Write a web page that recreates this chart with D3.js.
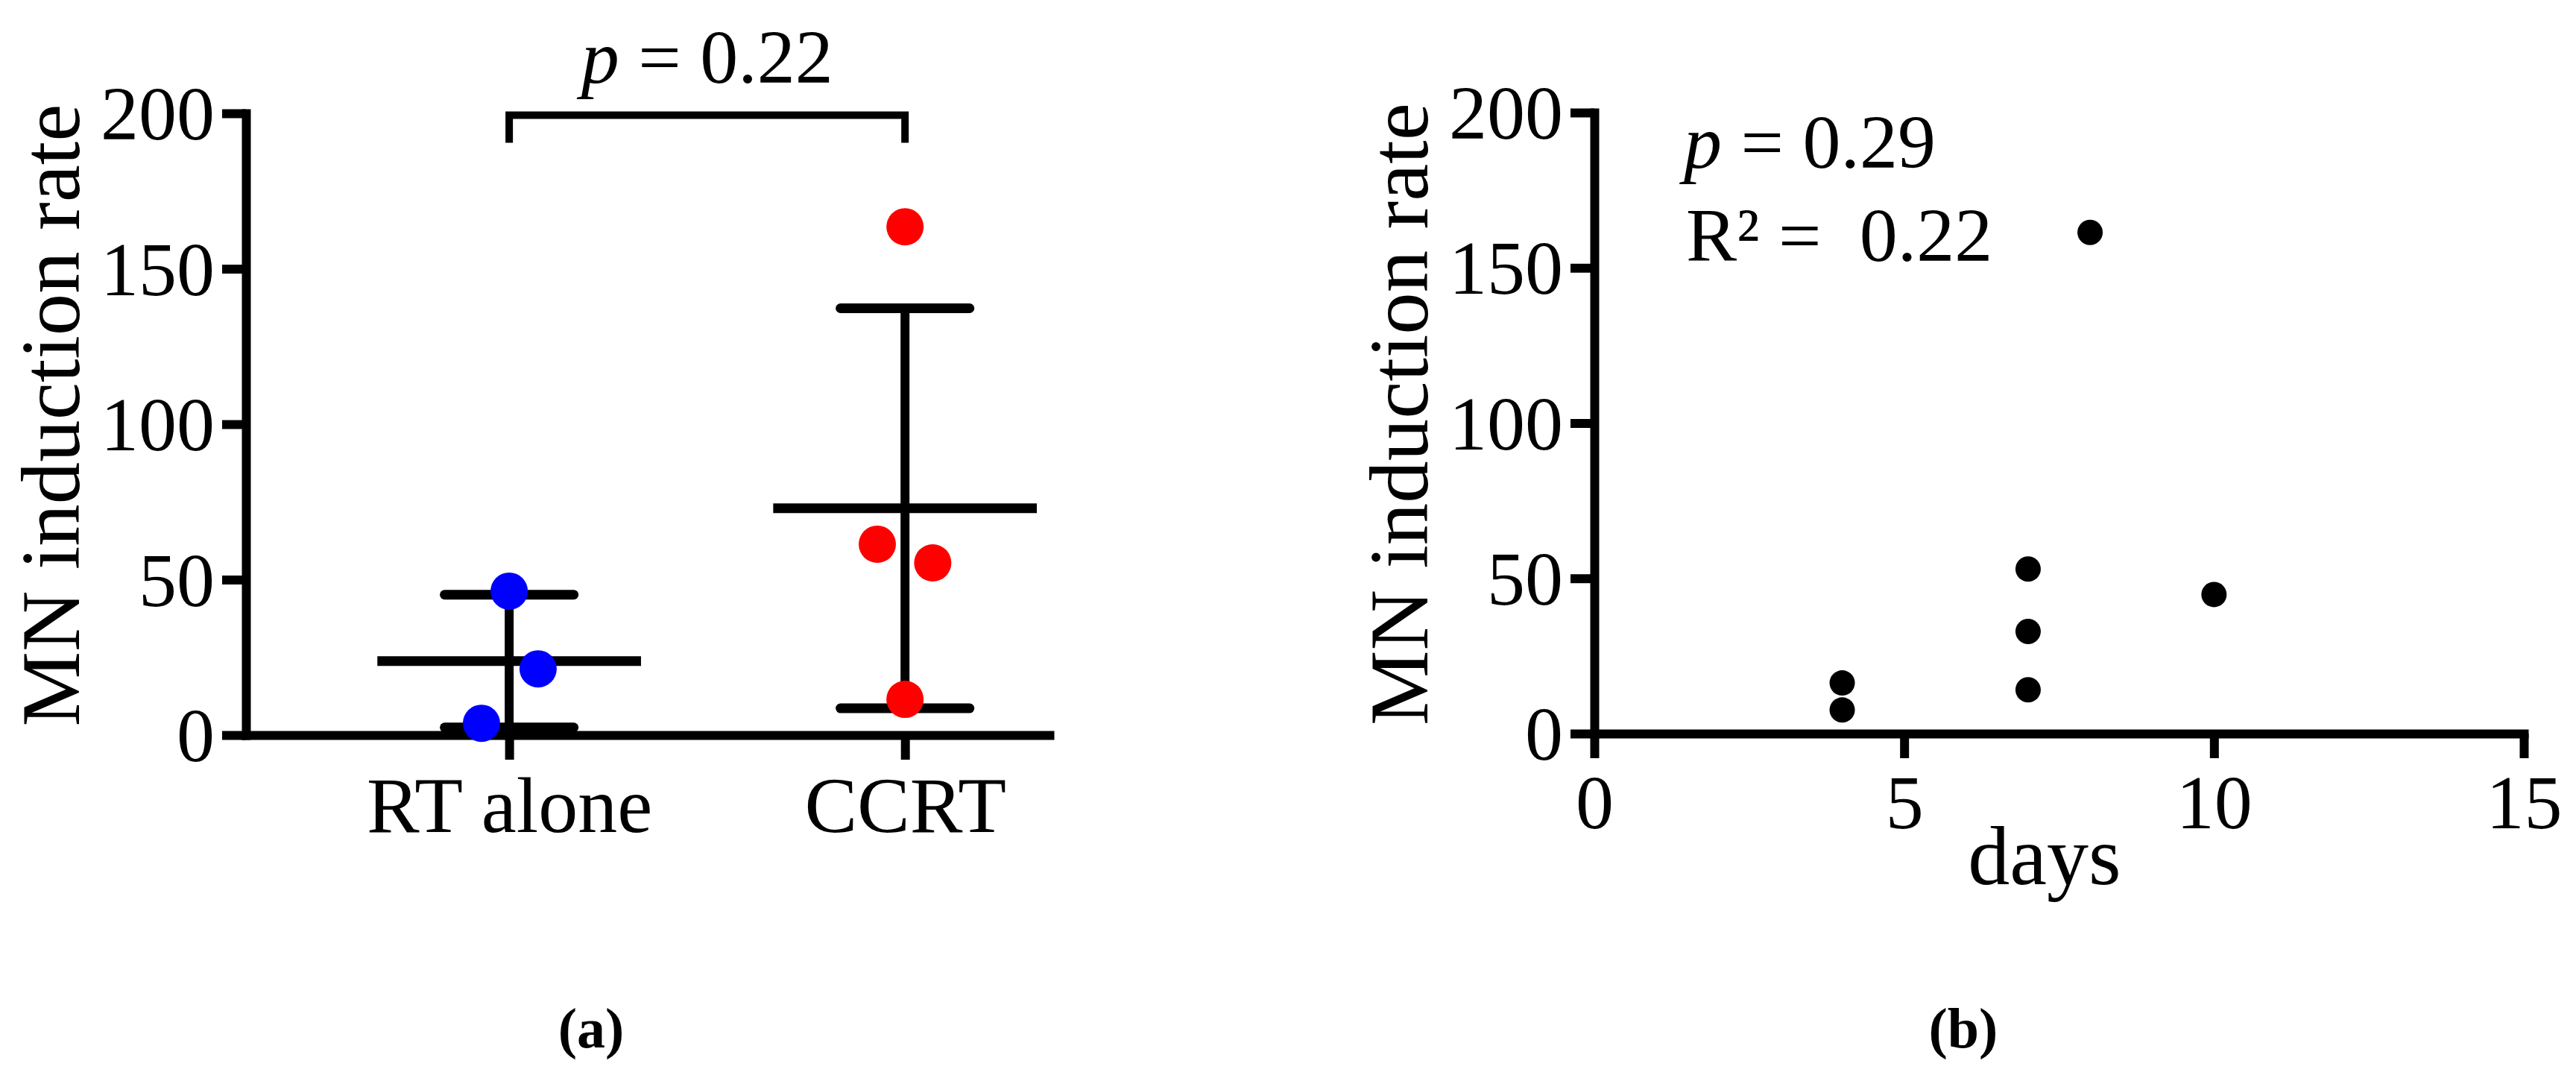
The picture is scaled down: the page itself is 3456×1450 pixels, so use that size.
<!DOCTYPE html>
<html>
<head>
<meta charset="utf-8">
<script src="https://cdn.jsdelivr.net/npm/d3@7"></script>
<style>
  body { margin: 0; background: #fff; }
  svg { display: block; }
</style>
</head>
<body>
<div class="container"></div>
<script>
// panel (a) data
const groups = ["RT alone", "CCRT"];
const rtAlone = [46.3, 21.3, 3.8];
const ccrt = [163.5, 61.4, 55.4, 11.5];
// horizontal scatter of the dots, in category units
const rtJitter = [0, 0.073, -0.07];
const ccrtJitter = [0, -0.07, 0.07, 0];
const pTextA = "0.22";

// panel (b) data
const days = [4, 4, 7, 7, 7, 8, 10];
const mnRate = [16.3, 7.6, 53, 32.9, 14.1, 161.4, 44.8];
const pTextB = "0.29";
const r2Text = "0.22";

const yTicks = [0, 50, 100, 150, 200];
const dayTicks = [0, 5, 10, 15];

const serif = '"Palatino Linotype", "Book Antiqua", Palatino, "Liberation Serif", serif';
const width = 3456;
const height = 1450;
const axisW = 12;

const svg = d3
  .select(".container")
  .append("svg")
  .attr("width", width)
  .attr("height", height)
  .style("font-family", serif);

function styleAxis(g, fontSize) {
  g.attr("font-family", serif).attr("font-size", fontSize);
  g.select(".domain").attr("stroke", "#000").attr("stroke-width", axisW).attr("stroke-linecap", "square");
  g.selectAll(".tick line").attr("stroke", "#000").attr("stroke-width", axisW);
  g.selectAll(".tick text").attr("fill", "#000");
}

function drawYAxis(y, x0, labelX) {
  const g = svg
    .append("g")
    .attr("transform", `translate(${x0},0)`)
    .call(d3.axisLeft(y).tickValues(yTicks).tickSize(32).tickSizeOuter(0).tickPadding(10));
  styleAxis(g, 102);
  g.selectAll(".tick text").attr("dy", "0.34em");

  svg
    .append("text")
    .attr("transform", `translate(${labelX},${(y(0) + y(200)) / 2 - 12}) rotate(-90)`)
    .attr("text-anchor", "middle")
    .attr("font-size", 113)
    .text("MN induction rate");
}

// ---------- panel (a) ----------
const ya = d3.scaleLinear().domain([0, 200]).range([986, 152]);
const xa = d3.scaleLinear().domain([-0.665, 1.365]).range([330, 1408]);

drawYAxis(ya, 330, 106);

const gxa = svg
  .append("g")
  .attr("transform", `translate(0,${ya(0)})`)
  .call(
    d3.axisBottom(xa)
      .tickValues([0, 1])
      .tickFormat((i) => groups[i])
      .tickSize(33)
      .tickSizeOuter(0)
  );
styleAxis(gxa, 106);
gxa.selectAll(".tick text").attr("y", 130).attr("dy", 0);

const sets = [
  { vals: rtAlone, jit: rtJitter, color: "#0000ff" },
  { vals: ccrt, jit: ccrtJitter, color: "#ff0000" },
];

// mean and SD bars
const gErr = svg.append("g").attr("stroke", "#000").attr("fill", "none");
sets.forEach((s, i) => {
  const m = d3.mean(s.vals);
  const sd = d3.deviation(s.vals);
  gErr.append("line")
    .attr("x1", xa(i)).attr("x2", xa(i))
    .attr("y1", ya(m - sd)).attr("y2", ya(m + sd))
    .attr("stroke-width", 12);
  gErr.append("line")
    .attr("x1", xa(i - 0.333)).attr("x2", xa(i + 0.333))
    .attr("y1", ya(m)).attr("y2", ya(m))
    .attr("stroke-width", 13);
  [m - sd, m + sd].forEach((v) => {
    gErr.append("line")
      .attr("x1", xa(i - 0.163)).attr("x2", xa(i + 0.163))
      .attr("y1", ya(v)).attr("y2", ya(v))
      .attr("stroke-width", 13)
      .attr("stroke-linecap", "round");
  });
});

// dots
sets.forEach((s, i) => {
  svg.append("g")
    .selectAll("circle")
    .data(s.vals)
    .join("circle")
    .attr("cx", (d, j) => xa(i + s.jit[j]))
    .attr("cy", (d) => ya(d))
    .attr("r", 25)
    .attr("fill", s.color);
});

// significance bracket
svg.append("path")
  .attr("d", `M${xa(0)},${ya(190.5)}V${ya(199.4)}H${xa(1)}V${ya(190.5)}`)
  .attr("fill", "none")
  .attr("stroke", "#000")
  .attr("stroke-width", 10);

const pA = svg.append("text")
  .attr("x", (xa(0) + xa(1)) / 2)
  .attr("y", 111)
  .attr("text-anchor", "middle")
  .attr("font-size", 102)
  .style("white-space", "pre");
pA.append("tspan").attr("font-style", "italic").text("p");
pA.append("tspan").text(" = " + pTextA);

// ---------- panel (b) ----------
const yb = d3.scaleLinear().domain([0, 200]).range([984, 151]);
const xb = d3.scaleLinear().domain([0, 15]).range([2139, 3386]);

drawYAxis(yb, 2139, 1915);

const gxb = svg
  .append("g")
  .attr("transform", `translate(0,${yb(0)})`)
  .call(d3.axisBottom(xb).tickValues(dayTicks).tickSize(33).tickSizeOuter(0));
styleAxis(gxb, 102);
gxb.selectAll(".tick text").attr("y", 127).attr("dy", 0);

svg.append("text")
  .attr("x", 2743)
  .attr("y", 1186)
  .attr("text-anchor", "middle")
  .attr("font-size", 112)
  .text("days");

svg.append("g")
  .selectAll("circle")
  .data(days)
  .join("circle")
  .attr("cx", (d) => xb(d))
  .attr("cy", (d, i) => yb(mnRate[i]))
  .attr("r", 17)
  .attr("fill", "#000");

const pB = svg.append("text")
  .attr("x", 2259)
  .attr("y", 225)
  .attr("font-size", 102)
  .style("white-space", "pre");
pB.append("tspan").attr("font-style", "italic").text("p");
pB.append("tspan").text(" = " + pTextB);

svg.append("text")
  .attr("x", 2262)
  .attr("y", 350)
  .attr("font-size", 102)
  .style("white-space", "pre")
  .text("R\u00b2 =  " + r2Text);

// panel letters
svg.append("text")
  .attr("x", 793).attr("y", 1405)
  .attr("text-anchor", "middle")
  .attr("font-size", 76)
  .attr("font-weight", "bold")
  .text("(a)");
svg.append("text")
  .attr("x", 2634).attr("y", 1405)
  .attr("text-anchor", "middle")
  .attr("font-size", 76)
  .attr("font-weight", "bold")
  .text("(b)");
</script>
</body>
</html>
